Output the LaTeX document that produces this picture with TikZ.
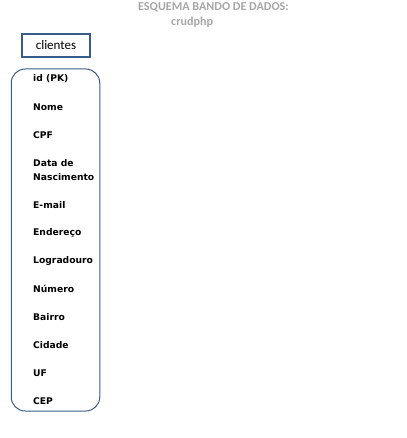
\documentclass[tikz,border=0pt]{standalone}
\usepackage{fontspec}
\setmainfont{Carlito}
\newfontfamily\fieldfont{DejaVu Sans}
\definecolor{boxblue}{HTML}{385D8A}
\definecolor{titlegray}{HTML}{A6A6A6}
\begin{document}
\begin{tikzpicture}[x=1pt,y=-1pt,
  field/.style={anchor=west,inner sep=0pt,font=\fieldfont\bfseries\fontsize{9.2}{13.5}\selectfont,align=left},
  title/.style={anchor=west,inner sep=0pt,text=titlegray,font=\bfseries\fontsize{12.1}{14}\selectfont}]
\useasboundingbox (0,0) rectangle (406,438);
\node[title] (t1) at (138,7) {ESQUEMA BANDO DE DADOS:};
\node[title] (t2) at (171,22) {crudphp};
\node[draw=boxblue,line width=1.8pt,minimum width=68pt,minimum height=23pt,inner sep=0pt,font=\fontsize{13}{15}\selectfont] (cl) at (56,45.5) {clientes};
\node[draw=boxblue,line width=1pt,rounded corners=14pt,minimum width=88.5pt,minimum height=342pt,inner sep=0pt] (tbl) at (55.5,240) {};
\node[field] (f1) at (33,79) {id (PK)};
\node[field] (f2) at (33,107) {Nome};
\node[field] (f3) at (33,135) {CPF};
\node[field] (f4) at (33,170) {Data de\\Nascimento};
\node[field] (f5) at (33,205) {E-mail};
\node[field] (f6) at (33,233) {Endereço};
\node[field] (f7) at (33,261) {Logradouro};
\node[field] (f8) at (33,289) {Número};
\node[field] (f9) at (33,317) {Bairro};
\node[field] (f10) at (33,345) {Cidade};
\node[field] (f11) at (33,373) {UF};
\node[field] (f12) at (33,401) {CEP};
\end{tikzpicture}
\end{document}
